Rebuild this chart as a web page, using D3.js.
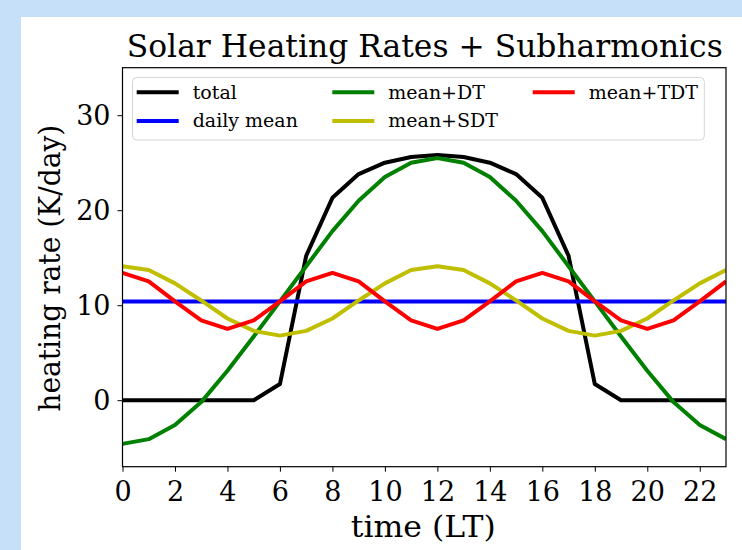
<!DOCTYPE html>
<html><head><meta charset="utf-8">
<script src="https://cdn.jsdelivr.net/npm/d3@7"></script>
<style>
html,body{margin:0;padding:0;background:#c6e0f9;}
svg{display:block;}
text{font-family:"DejaVu Serif",serif;fill:#000;}
</style></head>
<body><svg id="c" width="742" height="550"></svg>
<script>
const hours = d3.range(0, 24);
const total = [0,0,0,0,0,0,1.7,15.2,21.3,23.8,25.0,25.6,25.8,25.6,25.0,23.8,21.3,15.2,1.7,0,0,0,0,0];
const dailyMean = [10.4,10.4,10.4,10.4,10.4,10.4,10.4,10.4,10.4,10.4,10.4,10.4,10.4,10.4,10.4,10.4,10.4,10.4,10.4,10.4,10.4,10.4,10.4,10.4];
const meanDT = [-4.6,-4.1,-2.6,-0.2,3.1,6.7,10.4,14.1,17.8,21.0,23.5,25.0,25.5,25.0,23.5,21.0,17.8,14.1,10.4,6.7,3.1,-0.2,-2.6,-4.1];
const meanSDT = [14.1,13.7,12.3,10.5,8.6,7.3,6.8,7.3,8.6,10.5,12.3,13.7,14.1,13.7,12.3,10.5,8.6,7.3,6.8,7.3,8.6,10.5,12.3,13.7];
const meanTDT = [13.4,12.5,10.4,8.4,7.5,8.4,10.4,12.5,13.4,12.5,10.4,8.4,7.5,8.4,10.4,12.5,13.4,12.5,10.4,8.4,7.5,8.4,10.4,12.5];
const seriesNames = ["total","daily mean","mean+DT","mean+SDT","mean+TDT"];
const seriesColors = ["#000000","#0000ff","#008000","#bfbf00","#ff0000"];
const xTicks = d3.range(0, 23, 2);
const yTicks = [0,10,20,30];
const titleText = "Solar Heating Rates + Subharmonics";
const xLabel = "time (LT)";
const yLabel = "heating rate (K/day)";

const series = [total, dailyMean, meanDT, meanSDT, meanTDT];
const svg = d3.select("#c");
svg.append("rect").attr("x",21).attr("y",17).attr("width",742-21).attr("height",550-17).attr("fill","#fff");

const L = 122.5, R = 726, T = 67.7, B = 466.7;
const x = d3.scaleLinear().domain([0,23]).range([L,R]);
const y = d3.scaleLinear().domain([-7,35]).range([B,T]);

const g = svg.append("g");
g.append("clipPath").attr("id","clip").append("rect").attr("x",L).attr("y",T).attr("width",R-L).attr("height",B-T);

const line = d3.line().x((d,i)=>x(hours[i])).y(d=>y(d));
const lines = g.append("g").attr("clip-path","url(#clip)");
series.forEach((s,k)=>{
  lines.append("path").datum(s).attr("d",line).attr("fill","none")
    .attr("stroke",seriesColors[k]).attr("stroke-width",4).attr("stroke-linejoin","round").attr("stroke-linecap","butt");
});

// axes
const xAxis = d3.axisBottom(x).tickValues(xTicks).tickSize(5).tickPadding(4).tickFormat(d3.format("d"));
const yAxis = d3.axisLeft(y).tickValues(yTicks).tickSize(5).tickPadding(7).tickFormat(d3.format("d"));
const gx = g.append("g").attr("transform",`translate(0,${B})`).call(xAxis);
const gy = g.append("g").attr("transform",`translate(${L},0)`).call(yAxis);
[gx,gy].forEach(a=>{
  a.select(".domain").remove();
  a.selectAll("line").attr("stroke","#000").attr("stroke-width",1);
  a.selectAll("text").style("font-family","'DejaVu Serif',serif").style("font-size","27px").attr("fill","#000");
});
gx.selectAll("text").attr("y",34).attr("dy",0);
gy.selectAll("text").attr("dy","0.36em");

// spines
g.append("rect").attr("x",L).attr("y",T).attr("width",R-L).attr("height",B-T)
  .attr("fill","none").attr("stroke","#000").attr("stroke-width",1.2);

// title & labels
svg.append("text").attr("x",(L+R)/2+0.5).attr("y",57).attr("text-anchor","middle")
  .style("font-size","32px").attr("textLength",596).attr("lengthAdjust","spacingAndGlyphs").text(titleText);
svg.append("text").attr("x",(L+R)/2-1).attr("y",537).attr("text-anchor","middle")
  .style("font-size","30px").attr("textLength",145).attr("lengthAdjust","spacingAndGlyphs").text(xLabel);
svg.append("text").attr("transform",`translate(60,${(T+B)/2+1}) rotate(-90)`).attr("text-anchor","middle")
  .style("font-size","29px").attr("textLength",287).attr("lengthAdjust","spacingAndGlyphs").text(yLabel);

// legend
const lg = svg.append("g");
lg.append("rect").attr("x",132.5).attr("y",77.5).attr("width",704.3-132.5).attr("height",140-77.5)
  .attr("rx",4).attr("fill","#fff").attr("fill-opacity",0.8).attr("stroke","#d6d6d6").attr("stroke-width",1);
const colX = [136.7, 332.3, 532.7];
const rowY = [92.3, 121];
seriesNames.forEach((n,k)=>{
  const c = Math.floor(k/2), r = k%2;
  lg.append("line").attr("x1",colX[c]).attr("x2",colX[c]+42).attr("y1",rowY[r]).attr("y2",rowY[r])
    .attr("stroke",seriesColors[k]).attr("stroke-width",4);
  lg.append("text").attr("x",colX[c]+56).attr("y",rowY[r]).attr("dy","0.33em")
    .style("font-size","19px").text(n);
});
</script></body></html>
